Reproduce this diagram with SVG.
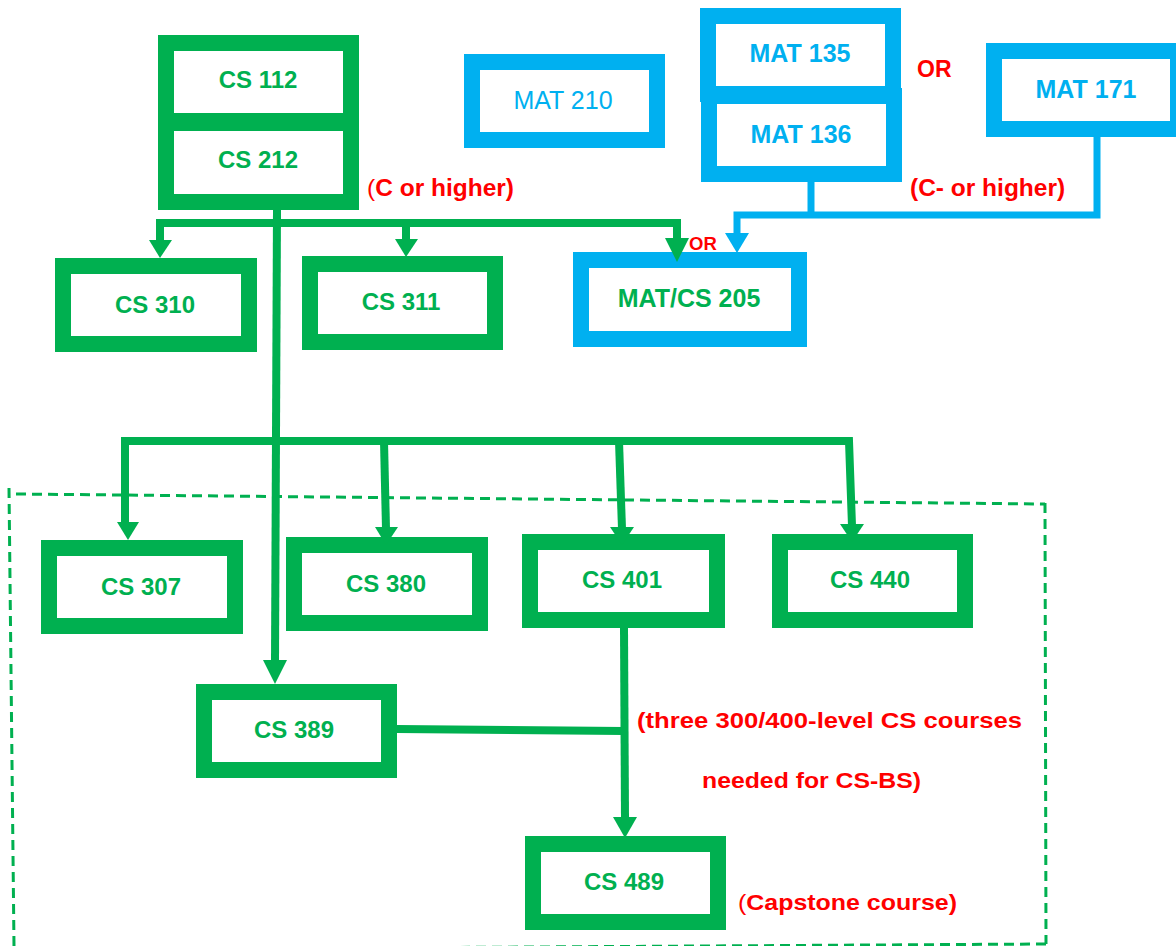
<svg xmlns="http://www.w3.org/2000/svg" width="1176" height="946" viewBox="0 0 1176 946">
<style>
  .g { fill: #FFFFFF; stroke: #00B050; stroke-width: 16; }
  .b { fill: #FFFFFF; stroke: #00B0F0; stroke-width: 16; }
  .t { font-family: "Liberation Sans", Arial, sans-serif; font-weight: bold; font-size: 24px; text-anchor: middle; }
  .tg { fill: #00B050; }
  .tb { fill: #00B0F0; }
  .red { font-family: "Liberation Sans", Arial, sans-serif; font-weight: bold; fill: #FF0000; }
  .cg { fill: none; stroke: #00B050; stroke-width: 8; }
  .cb { fill: none; stroke: #00B0F0; stroke-width: 7; }
  .ag { fill: #00B050; }
  .ab { fill: #00B0F0; }
  .dash { fill: none; stroke: #00B050; stroke-width: 3; stroke-dasharray: 10 6; }
</style>
<rect x="0" y="0" width="1176" height="946" fill="#FFFFFF"/>

<!-- dashed region -->
<g id="region">
  <path class="dash" d="M16,494 L1045,504"/>
  <path class="dash" d="M9,488 L14,946"/>
  <path class="dash" d="M1045,503 L1046,944"/>
  <path class="dash" d="M1046,944 L14,950"/>
</g>

<g id="cs112"><rect class="g" x="166" y="43" width="185" height="78"/><text class="t tg" x="258" y="88">CS 112</text></g>
<g id="cs212"><rect class="g" x="166" y="123" width="185" height="79"/><text class="t tg" x="258" y="168">CS 212</text></g>
<g id="mat210"><rect class="b" x="472" y="62" width="185" height="78"/><text class="t tb" x="563" y="109" style="font-weight:normal;font-size:25px">MAT 210</text></g>
<g id="mat135"><rect class="b" x="708" y="16" width="185" height="78"/><text class="t tb" x="800" y="62" style="font-size:25px">MAT 135</text></g>
<g id="mat136"><rect class="b" x="709" y="96" width="185" height="78"/><text class="t tb" x="801" y="143" style="font-size:25px">MAT 136</text></g>
<g id="mat171"><rect class="b" x="994" y="51" width="184" height="78"/><text class="t tb" x="1086" y="98" style="font-size:25px">MAT 171</text></g>
<g id="matcs205"><rect class="b" x="581" y="260" width="218" height="79"/><text class="t tg" x="689" y="307" style="font-size:25px">MAT/CS 205</text></g>
<g id="cs310"><rect class="g" x="63" y="266" width="186" height="78"/><text class="t tg" x="155" y="313">CS 310</text></g>
<g id="cs311"><rect class="g" x="310" y="264" width="185" height="78"/><text class="t tg" x="401" y="310">CS 311</text></g>
<g id="cs307"><rect class="g" x="49" y="548" width="186" height="78"/><text class="t tg" x="141" y="595">CS 307</text></g>
<g id="cs380"><rect class="g" x="294" y="545" width="186" height="78"/><text class="t tg" x="386" y="592">CS 380</text></g>
<g id="cs401"><rect class="g" x="530" y="542" width="187" height="78"/><text class="t tg" x="622" y="588">CS 401</text></g>
<g id="cs440"><rect class="g" x="780" y="542" width="185" height="78"/><text class="t tg" x="870" y="588">CS 440</text></g>
<g id="cs389"><rect class="g" x="204" y="692" width="185" height="78"/><text class="t tg" x="294" y="738">CS 389</text></g>
<g id="cs489"><rect class="g" x="533" y="844" width="185" height="78"/><text class="t tg" x="624" y="890">CS 489</text></g>

<g id="connectors">
  <!-- blue -->
  <path class="cb" d="M1097,137 V215 H737 V235"/>
  <path class="cb" d="M811,182 V215"/>
  <polygon class="ab" points="725,233 749,233 737,253"/>
  <!-- green top -->
  <path class="cg" d="M277,209 V223"/>
  <path class="cg" d="M160,242 V223 H677 V240"/>
  <path class="cg" d="M406,223 V242"/>
  <polygon class="ag" points="149,240 172,240 160,258"/>
  <polygon class="ag" points="395,239 418,239 406,257"/>
  <polygon class="ag" points="665,238 689,238 677,262"/>
  <!-- trunk -->
  <path class="cg" d="M277,209 L275,662"/>
  <polygon class="ag" points="263,660 287,660 275,684"/>
  <!-- lower bus -->
  <path class="cg" d="M125,524 L125,441 H849 L852,526"/>
  <path class="cg" d="M384,441 L386,529"/>
  <path class="cg" d="M619,441 L622,529"/>
  <polygon class="ag" points="117,522 139,522 128,540"/>
  <polygon class="ag" points="375,527 398,527 386,545"/>
  <polygon class="ag" points="610,527 634,527 622,545"/>
  <polygon class="ag" points="840,524 864,524 852,542"/>
  <!-- to capstone -->
  <path class="cg" d="M624,628 L625,819"/>
  <path class="cg" d="M397,729 L624,731"/>
  <polygon class="ag" points="613,817 637,817 625,838"/>
</g>

<g id="labels">
  <text class="red" x="917" y="77" font-size="23">OR</text>
  <text class="red" x="910" y="196" font-size="24.5">(C- or higher)</text>
  <text class="red" x="367" y="196" font-size="24.5"><tspan font-weight="normal">(</tspan>C or higher)</text>
  <text class="red" x="689" y="250" font-size="18.5">OR</text>
  <text class="red" x="637" y="728" font-size="22" textLength="385" lengthAdjust="spacingAndGlyphs">(three 300/400-level CS courses</text>
  <text class="red" x="702" y="788" font-size="22" textLength="219" lengthAdjust="spacingAndGlyphs">needed for CS-BS)</text>
  <text class="red" x="738" y="910" font-size="22" textLength="219" lengthAdjust="spacingAndGlyphs"><tspan font-weight="normal">(</tspan>Capstone course)</text>
</g>
</svg>
